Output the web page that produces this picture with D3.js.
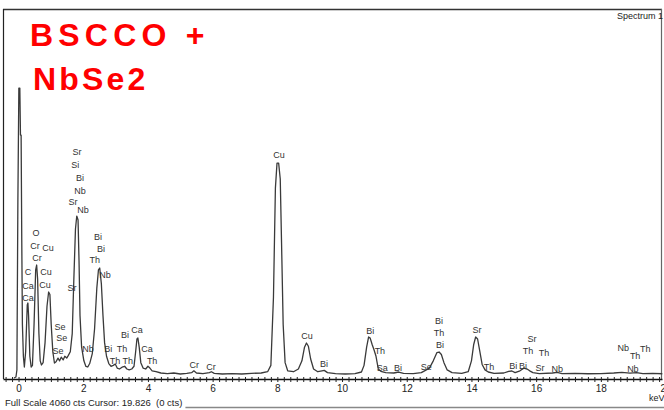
<!DOCTYPE html>
<html><head><meta charset="utf-8">
<script src="https://cdn.jsdelivr.net/npm/d3@7/dist/d3.min.js"></script>
<style>html,body{margin:0;padding:0;background:#fff;}svg{display:block;}</style>
</head><body>
<script>
// EDS spectrum: [energy keV, counts]
const spectrum = [
 [-0.14,11],[-0.08,22],[-0.05,99],[-0.02,1969],[0.01,3201],[0.04,3201],[0.06,2684],[0.08,2684],[0.10,1529],
 [0.12,600],[0.15,250],[0.18,132],[0.22,300],[0.27,814],[0.29,836],[0.31,700],[0.35,250],[0.39,132],[0.43,150],
 [0.48,600],[0.53,1200],[0.56,1254],[0.59,1100],[0.63,500],[0.67,200],[0.71,154],[0.76,180],[0.82,400],[0.88,800],
 [0.93,957],[0.97,930],[1.01,600],[1.06,300],[1.11,176],[1.16,190],[1.22,230],[1.27,200],[1.32,240],[1.38,210],
 [1.43,250],[1.49,230],[1.54,260],[1.60,300],[1.66,500],[1.71,1100],[1.76,1650],[1.80,1793],[1.84,1750],[1.87,1300],
 [1.90,700],[1.95,350],[2.02,200],[2.08,140],[2.14,132],[2.20,170],[2.28,280],[2.35,550],[2.42,1000],[2.47,1200],
 [2.51,1221],[2.56,1050],[2.61,700],[2.66,400],[2.72,250],[2.79,170],[2.86,140],[2.93,150],[2.99,165],[3.05,120],
 [3.12,110],[3.20,130],[3.28,140],[3.35,110],[3.42,100],[3.50,110],[3.57,140],[3.62,300],[3.66,440],[3.69,451],
 [3.73,350],[3.78,180],[3.85,120],[3.93,110],[4.00,140],[4.06,120],[4.13,90],[4.25,80],[4.40,66],[4.6,60],[4.8,66],
 [5.0,55],[5.2,62],[5.35,70],[5.42,90],[5.5,66],[5.7,58],[5.9,70],[5.96,80],[6.05,62],[6.3,55],[6.6,60],[6.9,55],
 [7.2,62],[7.5,66],[7.7,80],[7.8,150],[7.88,900],[7.94,2100],[7.99,2376],[8.04,2376],[8.09,2200],[8.13,1500],
 [8.18,600],[8.24,180],[8.32,90],[8.5,80],[8.65,110],[8.76,200],[8.84,350],[8.9,396],[8.96,360],[9.03,220],[9.12,110],
 [9.25,80],[9.38,90],[9.45,95],[9.55,70],[9.8,60],[10.1,55],[10.4,60],[10.6,77],[10.68,150],[10.76,350],[10.82,462],
 [10.87,450],[10.93,380],[10.99,319],[11.05,250],[11.12,110],[11.2,85],[11.35,70],[11.6,66],[11.75,77],[11.9,62],
 [12.2,60],[12.45,70],[12.55,90],[12.7,120],[12.82,200],[12.93,290],[13.0,297],[13.07,270],[13.15,180],[13.25,100],
 [13.4,70],[13.7,62],[13.9,80],[14.0,200],[14.07,380],[14.13,462],[14.19,440],[14.26,300],[14.33,160],[14.42,100],
 [14.52,77],[14.7,62],[15.0,66],[15.15,85],[15.25,88],[15.35,70],[15.5,90],[15.62,120],[15.72,110],[15.8,90],
 [15.9,70],[16.1,60],[16.5,66],[16.65,72],[16.8,60],[17.2,62],[17.6,58],[18.0,60],[18.4,66],[18.65,72],[18.9,64],
 [19.1,70],[19.3,60],[19.6,62],[19.9,58]
];
// peak identification labels: [element, energy keV, counts level]
const peakLabels = [
 ["Sr",1.81,2497],["Si",1.75,2354],["Bi",1.90,2211],["Nb",1.90,2068],["Sr",1.68,1947],["Nb",1.99,1859],
 ["O",0.54,1606],["Cr",0.51,1463],["Cu",0.91,1441],["Cr",0.57,1331],["C",0.29,1177],["Cu",0.85,1177],
 ["Ca",0.29,1023],["Cu",0.82,1034],["Ca",0.29,891],["Bi",2.46,1562],["Bi",2.55,1430],["Th",2.36,1309],
 ["Nb",2.67,1144],["Sr",1.65,1001],["Se",1.28,572],["Se",1.34,451],["Se",1.22,308],["Nb",2.15,330],
 ["Bi",2.77,330],["Bi",3.29,484],["Th",3.20,330],["Ca",3.66,539],["Ca",3.97,330],["Th",2.98,198],
 ["Th",3.38,198],["Th",4.13,198],["Cr",5.43,154],["Cr",5.95,132],["Cu",8.05,2464],["Cu",8.92,473],
 ["Bi",9.44,165],["Bi",10.87,528],["Th",11.17,308],["Sa",11.24,121],["Bi",11.73,121],["Se",12.60,132],
 ["Bi",13.0,638],["Th",13.0,506],["Bi",13.03,374],["Sr",14.17,539],["Th",14.54,132],["Bi",15.29,143],
 ["Bi",15.59,143],["Sr",15.87,440],["Th",15.75,308],["Th",16.24,286],["Sr",16.12,121],["Nb",16.65,110],
 ["Nb",18.69,341],["Th",19.06,253],["Th",19.37,330],["Nb",18.99,110]
];
const tickLabels = [0,2,4,6,8,10,12,14,16,18,20];
const titleLines = ["BSCCO +","NbSe2"];
const spectrumName = "Spectrum 1";
const statusText = "Full Scale 4060 cts Cursor: 19.826  (0 cts)";
const unitLabel = "keV";
const fullScale = 4060;

const W = 664, H = 410;
const L = 3, R = 662, T = 9, B = 379;
const svg = d3.select("body").append("svg").attr("width", W).attr("height", H);
svg.append("rect").attr("width", W).attr("height", H).attr("fill", "#fff");

const x = d3.scaleLinear().domain([-0.48, 19.89]).range([L, R]);
const y = d3.scaleLinear().domain([0, fullScale]).range([B, T + 1]);

// frame
svg.append("line").attr("x1", L).attr("x2", R).attr("y1", T + 0.5).attr("y2", T + 0.5).attr("stroke", "#333").attr("stroke-width", 1.6);
svg.append("line").attr("x1", L + 0.5).attr("x2", L + 0.5).attr("y1", T).attr("y2", B).attr("stroke", "#222").attr("stroke-width", 1.2);
svg.append("line").attr("x1", R - 0.5).attr("x2", R - 0.5).attr("y1", T).attr("y2", B).attr("stroke", "#666").attr("stroke-width", 1.2);

// spectrum
const line = d3.line().x(d => x(d[0])).y(d => y(d[1]));
svg.append("path").datum(spectrum).attr("d", line).attr("fill", "none")
  .attr("stroke", "#3a3a3a").attr("stroke-width", 1.3).attr("stroke-linejoin", "round");

// axis
const minor = d3.range(-0.4, 19.9, 0.2).map(v => Math.round(v * 10) / 10);
const ax = svg.append("g").attr("transform", `translate(0,${B})`)
  .call(d3.axisBottom(x).tickValues(minor).tickSize(3).tickSizeOuter(0).tickFormat(""));
ax.select(".domain").attr("stroke", "#111").attr("stroke-width", 1.3);
ax.selectAll(".tick line").attr("y1", -2).attr("stroke", "#222");
const lab = svg.append("g").attr("transform", `translate(0,${B})`)
  .call(d3.axisBottom(x).tickValues(tickLabels).tickSize(0).tickPadding(6).tickFormat(d3.format("d")));
lab.select(".domain").remove();
lab.selectAll("text").attr("font-family", "Liberation Sans, Arial, sans-serif").attr("font-size", 10).attr("fill", "#222");

// peak labels
svg.append("g").selectAll("text").data(peakLabels).join("text")
  .attr("x", d => x(d[1])).attr("y", d => y(d[2]))
  .attr("dy", "0.35em").attr("text-anchor", "middle")
  .attr("font-family", "Liberation Sans, Arial, sans-serif").attr("font-size", 9).attr("fill", "#333")
  .text(d => d[0]);

// title
const tfont = "Liberation Sans, Arial, sans-serif";
svg.append("text").attr("x", 30).attr("y", 46).attr("font-family", tfont).attr("font-weight", "bold")
  .attr("font-size", 32).attr("letter-spacing", 5.2).attr("fill", "#f00").text(titleLines[0]);
svg.append("text").attr("x", 33).attr("y", 90).attr("font-family", tfont).attr("font-weight", "bold")
  .attr("font-size", 32).attr("letter-spacing", 3.2).attr("fill", "#f00").text(titleLines[1]);

// spectrum name
svg.append("text").attr("x", R + 1).attr("y", 19).attr("text-anchor", "end")
  .attr("font-family", tfont).attr("font-size", 9).attr("fill", "#222").text(spectrumName);

// unit and status
svg.append("text").attr("x", 649).attr("y", 401).attr("font-family", tfont).attr("font-size", 9).attr("fill", "#222").text(unitLabel);
const st = svg.append("text").attr("x", 5).attr("y", 406).attr("font-family", tfont).attr("font-size", 9.5)
  .attr("fill", "#222").attr("xml:space", "preserve").style("white-space", "pre").text(statusText);
const bb = st.node().getBBox();
svg.append("line").attr("x1", bb.x + bb.width + 3).attr("x2", W).attr("y1", 407.5).attr("y2", 407.5)
  .attr("stroke", "#888").attr("stroke-width", 1.4);
</script>
</body></html>
